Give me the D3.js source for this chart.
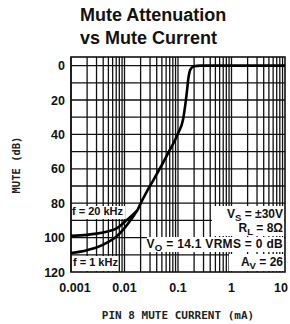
<!DOCTYPE html>
<html><head><meta charset="utf-8">
<script src="https://cdn.jsdelivr.net/npm/d3@7"></script>
<style>html,body{margin:0;padding:0;background:#fff;}svg{display:block;}</style>
</head><body>
<script>
// ---- data ----
const titleLines = ["Mute Attenuation", "vs Mute Current"];
const xTicks = [0.001, 0.01, 0.1, 1, 10];
const xTickLabels = ["0.001", "0.01", "0.1", "1", "10"];
const yTicks = [0, 20, 40, 60, 80, 100, 120];
const yGrid = [0, 10, 20, 30, 40, 50, 60, 70, 80, 90, 100, 110];
// shared upper part of the curve (current mA, mute dB)
const commonCurve = [[0.0175,84],[0.0205,79.5],[0.0275,72],[0.042,62],[0.065,51],[0.1,39.5],[0.124,31.5],[0.138,22],[0.148,14],[0.156,7.5],[0.165,3.5],[0.178,1.4],[0.2,0.4],[0.26,0],[10,0]];
const curve20k = [[0.001,99],[0.002,98.4],[0.003,97.7],[0.005,96.3],[0.007,94.8],[0.01,91],[0.014,87]];
const curve1k = [[0.001,109],[0.002,107.3],[0.003,105.8],[0.005,102.5],[0.007,99.5],[0.01,94.5],[0.014,88.5]];

const W = 290, H = 324;
const svg = d3.select("body").append("svg").attr("width", W).attr("height", H);
const L = 71, R = 285, T = 57, B = 272;
const x = d3.scaleLog().domain([0.001, 10]).range([L, R]);
const y = d3.scaleLinear().domain([-5, 120]).range([T, B]);

// title
svg.selectAll("text.title").data(titleLines).enter().append("text")
  .attr("x", 80).attr("y", (d,i) => 21 + i*22.5)
  .attr("font-family", "Liberation Sans, Arial, sans-serif")
  .attr("font-weight", "bold").attr("font-size", 18).attr("fill", "#111")
  .text(d => d);

// grid
const g = svg.append("g");
const vLines = [];
for (let e = -3; e <= 0; e++) for (let k = 1; k <= 9; k++) vLines.push(k * Math.pow(10, e));
g.selectAll("line.v").data(vLines).enter().append("line")
  .attr("x1", d => x(d)).attr("x2", d => x(d)).attr("y1", T).attr("y2", B)
  .attr("stroke", "#111").attr("stroke-width", 1.3);
g.selectAll("line.h").data(yGrid).enter().append("line")
  .attr("x1", L).attr("x2", R).attr("y1", d => y(d)).attr("y2", d => y(d))
  .attr("stroke", "#111").attr("stroke-width", 1.3);
g.append("rect").attr("x", L).attr("y", T).attr("width", R-L).attr("height", B-T)
  .attr("fill", "none").attr("stroke", "#111").attr("stroke-width", 1.6);

// white label boxes
const boxes = [
  [72, 206, 53, 13],
  [72, 256, 45, 15],
  [212, 206, 72, 30],
  [147, 237, 137, 15],
  [229, 254, 55, 17]
];
g.selectAll("rect.box").data(boxes).enter().append("rect")
  .attr("x", d => d[0]).attr("y", d => d[1]).attr("width", d => d[2]).attr("height", d => d[3])
  .attr("fill", "#fff");

const fnt = "Liberation Sans, Arial, sans-serif";
function label(xp, yp, anchor, parts, size) {
  const t = svg.append("text").attr("x", xp).attr("y", yp).attr("text-anchor", anchor)
    .attr("font-family", fnt).attr("font-weight", "bold").attr("font-size", size || 12).attr("fill", "#111");
  parts.forEach(p => {
    const s = t.append("tspan").text(p[0]);
    if (p[1] === "sub") s.attr("font-size", (size||12)*0.8).attr("dy", 3);
    if (p[1] === "back") s.attr("dy", -3);
  });
  return t;
}
label(72, 215, "start", [["f = 20 kHz"]], 11);
label(73, 266, "start", [["f = 1 kHz"]], 11);
label(283, 218, "end", [["V"],["S","sub"],[" = \u00b130V","back"]]);
label(283, 232, "end", [["R"],["L","sub"],[" = 8\u03a9","back"]]);
label(283, 248, "end", [["V"],["O","sub"],[" = 14.1 VRMS = 0 dB","back"]]).attr("letter-spacing", 0.3);
label(283, 266, "end", [["A"],["V","sub"],[" = 26","back"]]);

// curves
const line = d3.line().x(d => x(d[0])).y(d => y(d[1])).curve(d3.curveMonotoneX);
svg.append("path").attr("d", line(commonCurve)).attr("fill", "none").attr("stroke", "#000").attr("stroke-width", 2.6);
svg.append("path").attr("d", line(curve20k.concat([commonCurve[0]]))).attr("fill", "none").attr("stroke", "#000").attr("stroke-width", 2.6);
svg.append("path").attr("d", line(curve1k.concat([commonCurve[0]]))).attr("fill", "none").attr("stroke", "#000").attr("stroke-width", 2.6);

// axis tick labels
svg.selectAll("text.yt").data(yTicks).enter().append("text")
  .attr("x", 65).attr("y", d => y(d) + 4.5).attr("text-anchor", "end")
  .attr("font-family", fnt).attr("font-weight", "bold").attr("font-size", 12.5).attr("fill", "#111")
  .text(d => d);
const nX = xTicks.length;
svg.selectAll("text.xt").data(xTicks).enter().append("text")
  .attr("x", (d,i) => x(d) + (i === 0 ? 4 : (i === nX - 1 ? -4 : 0))).attr("y", 292).attr("text-anchor", "middle")
  .attr("font-family", fnt).attr("font-weight", "bold").attr("font-size", 12.5).attr("fill", "#111")
  .text((d,i) => xTickLabels[i]);

// axis titles
svg.append("text").attr("transform", "translate(20,165) rotate(-90)").attr("text-anchor", "middle")
  .attr("font-family", "DejaVu Sans Mono, monospace").attr("font-size", 10.5).attr("font-weight", "bold").attr("fill", "#222")
  .text("MUTE (dB)");
svg.append("text").attr("x", 178).attr("y", 319).attr("text-anchor", "middle")
  .attr("font-family", "DejaVu Sans Mono, monospace").attr("font-size", 11).attr("font-weight", "bold").attr("fill", "#222")
  .text("PIN 8 MUTE CURRENT (mA)");
</script>
</body></html>
